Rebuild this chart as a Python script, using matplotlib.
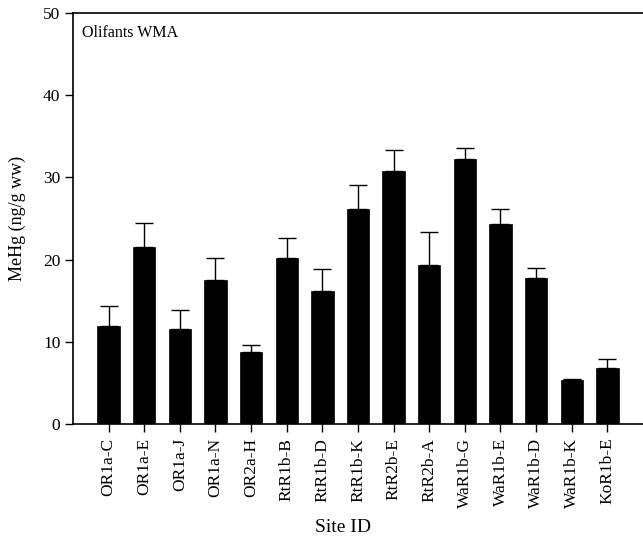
import numpy as np
import matplotlib
matplotlib.use('Agg')
import matplotlib.pyplot as plt

# Data
sites = ['OR1a-C','OR1a-E','OR1a-J','OR1a-N','OR2a-H','RtR1b-B','RtR1b-D','RtR1b-K',
         'RtR2b-E','RtR2b-A','WaR1b-G','WaR1b-E','WaR1b-D','WaR1b-K','KoR1b-E']
mehg = [11.9,21.5,11.5,17.5,8.8,20.2,16.2,26.1,30.8,19.4,32.2,24.3,17.8,5.3,6.8]
mehg_err = [2.5,2.9,2.4,2.7,0.8,2.4,2.7,3.0,2.5,3.9,1.4,1.9,1.2,0.2,1.05]
yticks = [0,10,20,30,40,50]

plt.rcParams['font.family'] = ['Liberation Serif','DejaVu Serif']

fig = plt.figure(figsize=(6.43,5.41),dpi=100,facecolor='w')
axs = fig.add_axes([0.1135,0.2163,0.8865,0.7597])
x = np.arange(len(sites))
axs.bar(x,mehg,width=0.63,color='k',edgecolor='k',linewidth=0.5)
axs.errorbar(x,mehg,yerr=[np.zeros(len(mehg)),mehg_err],fmt='none',ecolor='k',
             elinewidth=1.0,capsize=6.5,capthick=1.0)
axs.set_xlim(-1,15)
axs.set_ylim(0,50)
axs.set_yticks(yticks)
axs.set_xticks(x)
axs.set_xticklabels(sites,rotation=90,fontsize=12.5)
axs.tick_params(axis='y',labelsize=12.5,direction='out',length=6,width=1.0,pad=3)
axs.tick_params(axis='x',direction='out',length=6,width=1.0,pad=4)
for s in ['left','bottom','top']:
    axs.spines[s].set_linewidth(1.2)
axs.spines['right'].set_visible(False)
axs.set_ylabel('MeHg (ng/g ww)',fontsize=13)
axs.yaxis.set_label_coords(-0.082,0.5)
axs.set_xlabel('Site ID',fontsize=14)
axs.xaxis.set_label_coords(0.474,-0.23)
axs.text(0.015,0.97,'Olifants WMA',transform=axs.transAxes,fontsize=11.5,va='top',ha='left')

plt.savefig('out.png',dpi=100)
